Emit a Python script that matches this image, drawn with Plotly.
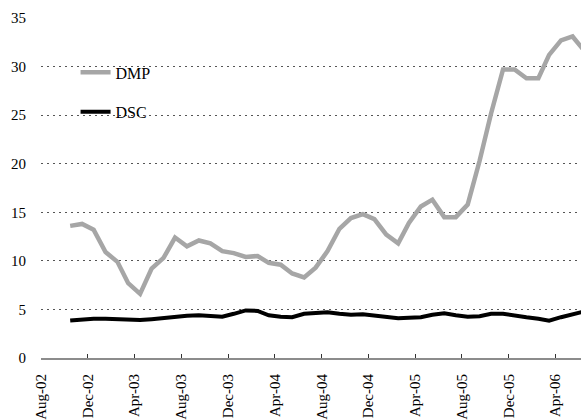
import pandas as pd
import plotly.graph_objects as go

# Monthly observations, Oct-2002 through Jun-2006
start_month = "2002-10-01"
dmp = [13.6, 13.8, 13.2, 10.9, 9.9, 7.7, 6.6, 9.2, 10.3, 12.4,
       11.5, 12.1, 11.8, 11.0, 10.8, 10.4, 10.5, 9.8, 9.6, 8.7,
       8.3, 9.3, 11.0, 13.3, 14.4, 14.8, 14.3, 12.7, 11.8, 13.9,
       15.6, 16.3, 14.5, 14.5, 15.8, 20.3, 25.2, 29.7, 29.7, 28.8,
       28.8, 31.2, 32.7, 33.1, 31.6]
dsc = [3.85, 4.0, 4.05, 4.05, 4.0, 3.95, 3.9, 4.0, 4.15, 4.3,
       4.35, 4.4, 4.3, 4.25, 4.55, 4.9, 4.85, 4.4, 4.25, 4.2,
       4.55, 4.6, 4.7, 4.55, 4.45, 4.5, 4.4, 4.25, 4.1, 4.15,
       4.2, 4.45, 4.6, 4.4, 4.25, 4.3, 4.55, 4.55, 4.35, 4.2,
       4.05, 3.85, 4.2, 4.5, 4.8]
y_ticks = [0, 5, 10, 15, 20, 25, 30, 35]

# each value plotted at the middle of its month
months = pd.date_range(start_month, periods=len(dmp), freq="MS") + pd.Timedelta(days=15)

serif = "Liberation Serif"

fig = go.Figure()
fig.add_trace(go.Scatter(x=months, y=dmp, mode="lines", name="DMP",
                         legend="legend",
                         line=dict(color="#a6a6a6", width=4.5)))
fig.add_trace(go.Scatter(x=months, y=dsc, mode="lines", name="DSC",
                         legend="legend2",
                         line=dict(color="#000000", width=4)))

legend_style = dict(xanchor="left", yanchor="middle",
                    bgcolor="rgba(0,0,0,0)", borderwidth=0,
                    font=dict(family=serif, size=16, color="#000000"))

fig.update_layout(
    width=581, height=420,
    margin=dict(l=41, r=0, t=18, b=58),
    paper_bgcolor="white", plot_bgcolor="white",
    font=dict(family=serif, size=15, color="#000000"),
    showlegend=True,
    legend=dict(x=0.064, y=0.840, **legend_style),
    legend2=dict(x=0.064, y=0.724, **legend_style),
    xaxis=dict(
        type="date",
        range=["2002-08-01", "2006-06-07"],
        tick0="2002-08-01", dtick="M4", tickformat="%b-%y",
        tickangle=-90, ticks="inside", ticklen=4, tickcolor="#333333",
        tickfont=dict(family=serif, size=15),
        ticklabelstandoff=8,
        showgrid=False, showline=True, linecolor="#8c8c8c", linewidth=2,
        zeroline=False,
    ),
    yaxis=dict(
        range=[0, 35], tickvals=y_ticks,
        showgrid=True, gridcolor="#555555", gridwidth=1, griddash="2px,4px",
        showline=False, zeroline=False, ticks="",
        tickfont=dict(family=serif, size=15),
        ticklabelstandoff=14,
    ),
)

fig.write_html("out.html")
